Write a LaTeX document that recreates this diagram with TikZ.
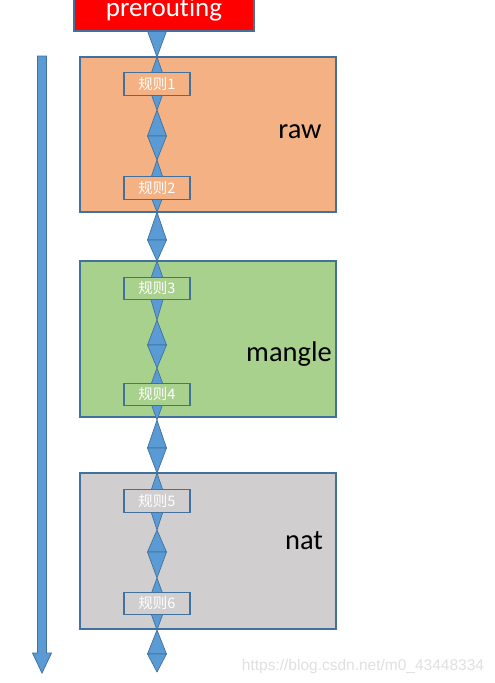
\documentclass[tikz,border=0pt]{standalone}
\usepackage{fontspec}
\setmainfont{Carlito}[Ligatures={NoCommon,NoRequired,NoContextual}]
\newfontfamily\cjk{Noto Sans CJK SC}
\newfontfamily\wmfont{Liberation Sans}
\definecolor{edgeblue}{HTML}{41719C}
\definecolor{arrowblue}{HTML}{5B9BD5}
\definecolor{rawfill}{HTML}{F4B183}
\definecolor{manglefill}{HTML}{A9D18E}
\definecolor{natfill}{HTML}{D0CECE}
\definecolor{prered}{HTML}{FF0000}
\begin{document}
\begin{tikzpicture}[x=1pt,y=-1pt,
  tablebox/.style={draw=edgeblue, line width=1.2pt, minimum width=256pt, minimum height=155pt, inner sep=0pt},
  rulebox/.style={draw=edgeblue, line width=1.2pt, minimum width=66pt, minimum height=22.5pt, inner sep=0pt,
    text=white, font=\cjk\fontsize{14.5}{16}\selectfont},
  tablelabel/.style={anchor=base, font=\fontsize{28.5}{32}\selectfont, text=black, inner sep=0pt},
  tri/.style={fill=arrowblue, draw=edgeblue, line width=0.7pt, line join=round},
  bigarrow/.style={fill=arrowblue, draw=edgeblue, line width=0.8pt}]
\useasboundingbox (0,0) rectangle (495,683);
\clip (0,0) rectangle (495,683);
\fill[white] (0,0) rectangle (495,683);

% tables
\node[tablebox, fill=rawfill] (raw) at (208,134.5) {};
\node[tablebox, fill=manglefill, minimum height=156pt] (mangle) at (208,339) {};
\node[tablebox, fill=natfill, minimum height=156pt] (nat) at (208,551) {};

% left flow arrow
\draw[bigarrow] (37.5,56) -- (46.5,56) -- (46.5,653) -- (51.5,653) -- (42,673) -- (32.5,653) -- (37.5,653) -- cycle;

% diamond chain
\foreach \t/\m/\b in {5/31/57, 57/84/110, 110/136/160, 160/188/212, 212/240/261, 261/288/320, 320/345/368, 368/394/420, 420/448/473, 473/501/530, 530/552/578, 578/604/630, 630/654/672} {
  \draw[tri] (157,\t) -- (166.5,\m) -- (147.5,\m) -- cycle;
  \draw[tri] (147.5,\m) -- (166.5,\m) -- (157,\b) -- cycle;
}

% rule boxes
\node[rulebox, fill=rawfill] (r1) at (157,84) {规则1};
\node[rulebox, fill=rawfill] (r2) at (157,188) {规则2};
\node[rulebox, fill=manglefill] (r3) at (157,288.5) {规则3};
\node[rulebox, fill=manglefill] (r4) at (157,394.5) {规则4};
\node[rulebox, fill=natfill] (r5) at (157,501) {规则5};
\node[rulebox, fill=natfill] (r6) at (157,603.5) {规则6};

% prerouting
\node[draw=edgeblue, line width=1.2pt, fill=prered, minimum width=180pt, minimum height=41pt, inner sep=0pt] (pre) at (164,10.5) {};
\node[anchor=base, text=white, font=\fontsize{27}{30}\selectfont, inner sep=0pt] (pretext) at (164,16.5) {prerouting};

% table labels
\node[tablelabel] (rawlabel) at (300,138) {raw};
\node[tablelabel] (manglelabel) at (289,361) {mangle};
\node[tablelabel] (natlabel) at (304,549) {nat};

% watermark
\node[anchor=base, text=black!12, font=\wmfont\fontsize{15.5}{17}\selectfont, inner sep=0pt] (wm) at (363,670) {https://blog.csdn.net/m0\_43448334};
\end{tikzpicture}
\end{document}
